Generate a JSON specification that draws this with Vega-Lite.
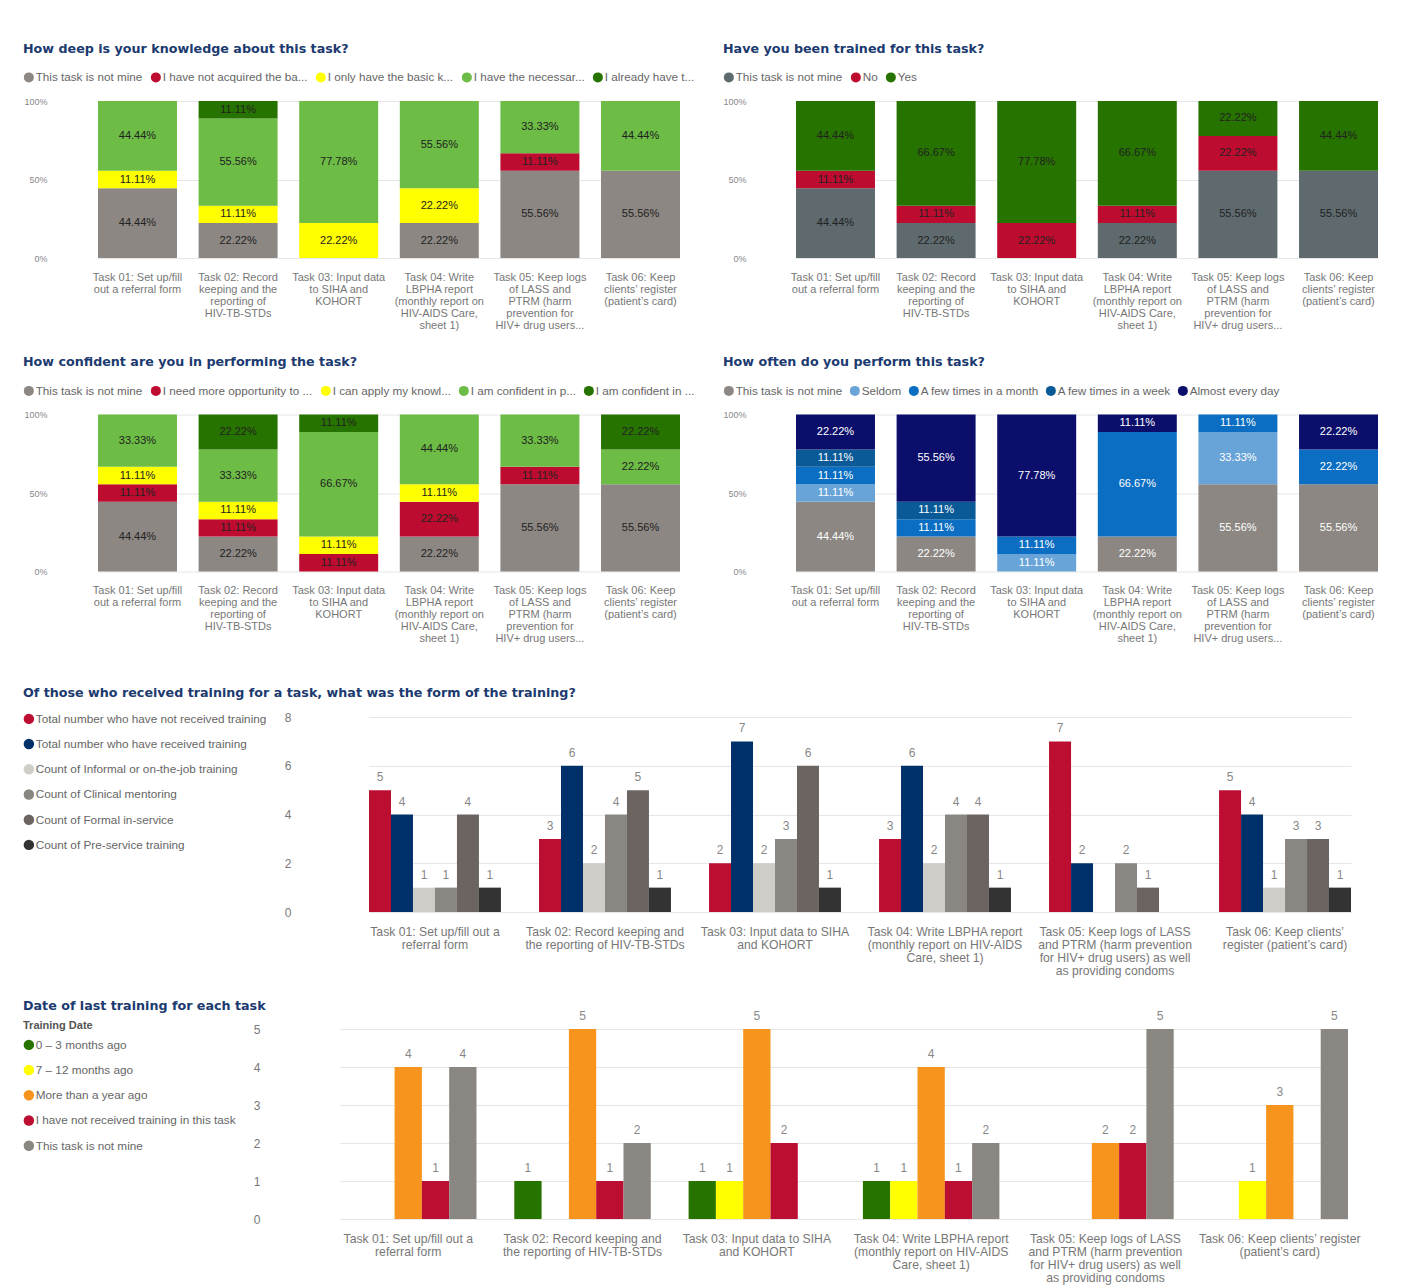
{
  "$schema": "https://vega.github.io/schema/vega-lite/v6.json",
  "background": "white",
  "padding": {"left": 23, "top": 42, "right": 5, "bottom": 5},
  "config": {
    "font": "Liberation Sans",
    "view": {"stroke": null},
    "title": {"font": "DejaVu Sans", "fontSize": 12.7, "fontWeight": "bold", "color": "#1b3a6f", "anchor": "start", "frame": "bounds", "offset": 16},
    "axisX": {"domain": false, "ticks": false, "grid": false, "labelAngle": 0, "labelColor": "#777", "labelBaseline": "top", "labelOverlap": false, "labelBound": false, "labelLimit": 300, "title": null},
    "axisY": {"domain": false, "ticks": false, "gridColor": "#e6e6e6", "labelColor": "#888", "title": null},
    "legend": {"symbolType": "circle", "labelColor": "#666", "symbolStrokeWidth": 0, "labelLimit": 400}
  },
  "resolve": {"scale": {"color": "independent", "x": "independent", "y": "independent", "xOffset": "independent"}, "legend": {"color": "independent"}, "axis": {"x": "independent", "y": "independent"}},
  "concat": [
    {
      "resolve": {"scale": {"color": "independent", "x": "independent", "y": "independent"}, "legend": {"color": "independent"}, "axis": {"x": "independent", "y": "independent"}},
      "concat": [
        {
          "resolve": {"scale": {"color": "independent", "x": "independent", "y": "independent"}, "legend": {"color": "independent"}, "axis": {"x": "independent", "y": "independent"}},
          "hconcat": [
            {
              "title": {"text": "How deep is your knowledge about this task?"},
              "width": 634, "height": 157,
              "data": {"values": [
                {"task": "Task 01", "answer": "This task is not mine", "code": 0, "share": 0.4444},
                {"task": "Task 01", "answer": "I only have the basic knowledge", "code": 2, "share": 0.1111},
                {"task": "Task 01", "answer": "I have the necessary knowledge", "code": 3, "share": 0.4444},
                {"task": "Task 02", "answer": "This task is not mine", "code": 0, "share": 0.2222},
                {"task": "Task 02", "answer": "I only have the basic knowledge", "code": 2, "share": 0.1111},
                {"task": "Task 02", "answer": "I have the necessary knowledge", "code": 3, "share": 0.5556},
                {"task": "Task 02", "answer": "I already have thorough knowledge", "code": 4, "share": 0.1111},
                {"task": "Task 03", "answer": "I only have the basic knowledge", "code": 2, "share": 0.2222},
                {"task": "Task 03", "answer": "I have the necessary knowledge", "code": 3, "share": 0.7778},
                {"task": "Task 04", "answer": "This task is not mine", "code": 0, "share": 0.2222},
                {"task": "Task 04", "answer": "I only have the basic knowledge", "code": 2, "share": 0.2222},
                {"task": "Task 04", "answer": "I have the necessary knowledge", "code": 3, "share": 0.5556},
                {"task": "Task 05", "answer": "This task is not mine", "code": 0, "share": 0.5556},
                {"task": "Task 05", "answer": "I have not acquired the basic knowledge", "code": 1, "share": 0.1111},
                {"task": "Task 05", "answer": "I have the necessary knowledge", "code": 3, "share": 0.3333},
                {"task": "Task 06", "answer": "This task is not mine", "code": 0, "share": 0.5556},
                {"task": "Task 06", "answer": "I have the necessary knowledge", "code": 3, "share": 0.4444}
              ]},
              "transform": [
                {"stack": "share", "groupby": ["task"], "sort": [{"field": "code"}], "as": ["s0", "s1"]},
                {"calculate": "(datum.s0 + datum.s1) / 2", "as": "mid"}
              ],
              "encoding": {
                "x": {"field": "task", "type": "nominal", "scale": {"range": [41, 623], "paddingInner": 0.215, "paddingOuter": 0},
                  "axis": {"labelFontSize": 11, "labelLineHeight": 12, "labelPadding": 13,
                    "labelExpr": "datum.value=='Task 01' ? ['Task 01: Set up/fill','out a referral form'] : datum.value=='Task 02' ? ['Task 02: Record','keeping and the','reporting of','HIV-TB-STDs'] : datum.value=='Task 03' ? ['Task 03: Input data','to SIHA and','KOHORT'] : datum.value=='Task 04' ? ['Task 04: Write','LBPHA report','(monthly report on','HIV-AIDS Care,','sheet 1)'] : datum.value=='Task 05' ? ['Task 05: Keep logs','of LASS and','PTRM (harm','prevention for','HIV+ drug users...'] : ['Task 06: Keep','clients’ register','(patient’s card)']"}}
              },
              "layer": [
                {"mark": {"type": "bar"},
                  "encoding": {
                    "y": {"field": "s0", "type": "quantitative", "scale": {"domain": [0, 1]}, "axis": {"values": [0, 0.5, 1], "format": ".0%", "labelFontSize": 9, "labelPadding": 10}},
                    "y2": {"field": "s1"},
                    "color": {"field": "answer", "type": "nominal",
                      "scale": {"domain": ["This task is not mine", "I have not acquired the basic knowledge", "I only have the basic knowledge", "I have the necessary knowledge", "I already have thorough knowledge"], "range": ["#8c8782", "#bd0c2f", "#ffff00", "#6cbc45", "#267300"]},
                      "legend": {"orient": "none", "legendX": -34, "legendY": -29.7, "direction": "horizontal", "title": null, "symbolSize": 100, "labelFontSize": 11.7, "labelOffset": 1, "columnPadding": 7,
                        "labelExpr": "indexof(datum.label,'not acquired')>=0 ? 'I have not acquired the ba...' : indexof(datum.label,'only have')>=0 ? 'I only have the basic k...' : indexof(datum.label,'necessary')>=0 ? 'I have the necessar...' : indexof(datum.label,'already')>=0 ? 'I already have t...' : datum.label"}}
                  }},
                {"mark": {"type": "text", "fontSize": 11, "color": "#222"},
                  "encoding": {"y": {"field": "mid", "type": "quantitative"}, "text": {"field": "share", "type": "quantitative", "format": ".2%"}}}
              ]
            },
            {
              "title": {"text": "Have you been trained for this task?"},
              "width": 634, "height": 157,
              "data": {"values": [
                {"task": "Task 01", "answer": "This task is not mine", "code": 0, "share": 0.4444},
                {"task": "Task 01", "answer": "No", "code": 1, "share": 0.1111},
                {"task": "Task 01", "answer": "Yes", "code": 2, "share": 0.4444},
                {"task": "Task 02", "answer": "This task is not mine", "code": 0, "share": 0.2222},
                {"task": "Task 02", "answer": "No", "code": 1, "share": 0.1111},
                {"task": "Task 02", "answer": "Yes", "code": 2, "share": 0.6667},
                {"task": "Task 03", "answer": "No", "code": 1, "share": 0.2222},
                {"task": "Task 03", "answer": "Yes", "code": 2, "share": 0.7778},
                {"task": "Task 04", "answer": "This task is not mine", "code": 0, "share": 0.2222},
                {"task": "Task 04", "answer": "No", "code": 1, "share": 0.1111},
                {"task": "Task 04", "answer": "Yes", "code": 2, "share": 0.6667},
                {"task": "Task 05", "answer": "This task is not mine", "code": 0, "share": 0.5556},
                {"task": "Task 05", "answer": "No", "code": 1, "share": 0.2222},
                {"task": "Task 05", "answer": "Yes", "code": 2, "share": 0.2222},
                {"task": "Task 06", "answer": "This task is not mine", "code": 0, "share": 0.5556},
                {"task": "Task 06", "answer": "Yes", "code": 2, "share": 0.4444}
              ]},
              "transform": [
                {"stack": "share", "groupby": ["task"], "sort": [{"field": "code"}], "as": ["s0", "s1"]},
                {"calculate": "(datum.s0 + datum.s1) / 2", "as": "mid"}
              ],
              "encoding": {
                "x": {"field": "task", "type": "nominal", "scale": {"range": [40, 622], "paddingInner": 0.215, "paddingOuter": 0},
                  "axis": {"labelFontSize": 11, "labelLineHeight": 12, "labelPadding": 13,
                    "labelExpr": "datum.value=='Task 01' ? ['Task 01: Set up/fill','out a referral form'] : datum.value=='Task 02' ? ['Task 02: Record','keeping and the','reporting of','HIV-TB-STDs'] : datum.value=='Task 03' ? ['Task 03: Input data','to SIHA and','KOHORT'] : datum.value=='Task 04' ? ['Task 04: Write','LBPHA report','(monthly report on','HIV-AIDS Care,','sheet 1)'] : datum.value=='Task 05' ? ['Task 05: Keep logs','of LASS and','PTRM (harm','prevention for','HIV+ drug users...'] : ['Task 06: Keep','clients’ register','(patient’s card)']"}}
              },
              "layer": [
                {"mark": {"type": "bar"},
                  "encoding": {
                    "y": {"field": "s0", "type": "quantitative", "scale": {"domain": [0, 1]}, "axis": {"values": [0, 0.5, 1], "format": ".0%", "labelFontSize": 9, "labelPadding": 10}},
                    "y2": {"field": "s1"},
                    "color": {"field": "answer", "type": "nominal",
                      "scale": {"domain": ["This task is not mine", "No", "Yes"], "range": ["#5e6a6d", "#bd0c2f", "#267300"]},
                      "legend": {"orient": "none", "legendX": -33, "legendY": -29.7, "direction": "horizontal", "title": null, "symbolSize": 100, "labelFontSize": 11.7, "labelOffset": 1, "columnPadding": 7}}
                  }},
                {"mark": {"type": "text", "fontSize": 11, "color": "#222"},
                  "encoding": {"y": {"field": "mid", "type": "quantitative"}, "text": {"field": "share", "type": "quantitative", "format": ".2%"}}}
              ]
            }
          ],
          "spacing": 27
        },
        {
          "resolve": {"scale": {"color": "independent", "x": "independent", "y": "independent"}, "legend": {"color": "independent"}, "axis": {"x": "independent", "y": "independent"}},
          "hconcat": [
            {
              "title": {"text": "How confident are you in performing the task?"},
              "width": 634, "height": 157,
              "data": {"values": [
                {"task": "Task 01", "answer": "This task is not mine", "code": 0, "share": 0.4444},
                {"task": "Task 01", "answer": "I need more opportunity to practice", "code": 1, "share": 0.1111},
                {"task": "Task 01", "answer": "I can apply my knowledge with support", "code": 2, "share": 0.1111},
                {"task": "Task 01", "answer": "I am confident in performing the task", "code": 3, "share": 0.3333},
                {"task": "Task 02", "answer": "This task is not mine", "code": 0, "share": 0.2222},
                {"task": "Task 02", "answer": "I need more opportunity to practice", "code": 1, "share": 0.1111},
                {"task": "Task 02", "answer": "I can apply my knowledge with support", "code": 2, "share": 0.1111},
                {"task": "Task 02", "answer": "I am confident in performing the task", "code": 3, "share": 0.3333},
                {"task": "Task 02", "answer": "I am confident in teaching others", "code": 4, "share": 0.2222},
                {"task": "Task 03", "answer": "I need more opportunity to practice", "code": 1, "share": 0.1111},
                {"task": "Task 03", "answer": "I can apply my knowledge with support", "code": 2, "share": 0.1111},
                {"task": "Task 03", "answer": "I am confident in performing the task", "code": 3, "share": 0.6667},
                {"task": "Task 03", "answer": "I am confident in teaching others", "code": 4, "share": 0.1111},
                {"task": "Task 04", "answer": "This task is not mine", "code": 0, "share": 0.2222},
                {"task": "Task 04", "answer": "I need more opportunity to practice", "code": 1, "share": 0.2222},
                {"task": "Task 04", "answer": "I can apply my knowledge with support", "code": 2, "share": 0.1111},
                {"task": "Task 04", "answer": "I am confident in performing the task", "code": 3, "share": 0.4444},
                {"task": "Task 05", "answer": "This task is not mine", "code": 0, "share": 0.5556},
                {"task": "Task 05", "answer": "I need more opportunity to practice", "code": 1, "share": 0.1111},
                {"task": "Task 05", "answer": "I am confident in performing the task", "code": 3, "share": 0.3333},
                {"task": "Task 06", "answer": "This task is not mine", "code": 0, "share": 0.5556},
                {"task": "Task 06", "answer": "I am confident in performing the task", "code": 3, "share": 0.2222},
                {"task": "Task 06", "answer": "I am confident in teaching others", "code": 4, "share": 0.2222}
              ]},
              "transform": [
                {"stack": "share", "groupby": ["task"], "sort": [{"field": "code"}], "as": ["s0", "s1"]},
                {"calculate": "(datum.s0 + datum.s1) / 2", "as": "mid"}
              ],
              "encoding": {
                "x": {"field": "task", "type": "nominal", "scale": {"range": [41, 623], "paddingInner": 0.215, "paddingOuter": 0},
                  "axis": {"labelFontSize": 11, "labelLineHeight": 12, "labelPadding": 13,
                    "labelExpr": "datum.value=='Task 01' ? ['Task 01: Set up/fill','out a referral form'] : datum.value=='Task 02' ? ['Task 02: Record','keeping and the','reporting of','HIV-TB-STDs'] : datum.value=='Task 03' ? ['Task 03: Input data','to SIHA and','KOHORT'] : datum.value=='Task 04' ? ['Task 04: Write','LBPHA report','(monthly report on','HIV-AIDS Care,','sheet 1)'] : datum.value=='Task 05' ? ['Task 05: Keep logs','of LASS and','PTRM (harm','prevention for','HIV+ drug users...'] : ['Task 06: Keep','clients’ register','(patient’s card)']"}}
              },
              "layer": [
                {"mark": {"type": "bar"},
                  "encoding": {
                    "y": {"field": "s0", "type": "quantitative", "scale": {"domain": [0, 1]}, "axis": {"values": [0, 0.5, 1], "format": ".0%", "labelFontSize": 9, "labelPadding": 10}},
                    "y2": {"field": "s1"},
                    "color": {"field": "answer", "type": "nominal",
                      "scale": {"domain": ["This task is not mine", "I need more opportunity to practice", "I can apply my knowledge with support", "I am confident in performing the task", "I am confident in teaching others"], "range": ["#8c8782", "#bd0c2f", "#ffff00", "#6cbc45", "#267300"]},
                      "legend": {"orient": "none", "legendX": -34, "legendY": -29.7, "direction": "horizontal", "title": null, "symbolSize": 100, "labelFontSize": 11.7, "labelOffset": 1, "columnPadding": 7,
                        "labelExpr": "indexof(datum.label,'opportunity')>=0 ? 'I need more opportunity to ...' : indexof(datum.label,'apply')>=0 ? 'I can apply my knowl...' : indexof(datum.label,'performing')>=0 ? 'I am confident in p...' : indexof(datum.label,'teaching')>=0 ? 'I am confident in ...' : datum.label"}}
                  }},
                {"mark": {"type": "text", "fontSize": 11, "color": "#222"},
                  "encoding": {"y": {"field": "mid", "type": "quantitative"}, "text": {"field": "share", "type": "quantitative", "format": ".2%"}}}
              ]
            },
            {
              "title": {"text": "How often do you perform this task?"},
              "width": 634, "height": 157,
              "data": {"values": [
                {"task": "Task 01", "answer": "This task is not mine", "code": 0, "share": 0.4444},
                {"task": "Task 01", "answer": "Seldom", "code": 1, "share": 0.1111},
                {"task": "Task 01", "answer": "A few times in a month", "code": 2, "share": 0.1111},
                {"task": "Task 01", "answer": "A few times in a week", "code": 3, "share": 0.1111},
                {"task": "Task 01", "answer": "Almost every day", "code": 4, "share": 0.2222},
                {"task": "Task 02", "answer": "This task is not mine", "code": 0, "share": 0.2222},
                {"task": "Task 02", "answer": "A few times in a month", "code": 2, "share": 0.1111},
                {"task": "Task 02", "answer": "A few times in a week", "code": 3, "share": 0.1111},
                {"task": "Task 02", "answer": "Almost every day", "code": 4, "share": 0.5556},
                {"task": "Task 03", "answer": "Seldom", "code": 1, "share": 0.1111},
                {"task": "Task 03", "answer": "A few times in a month", "code": 2, "share": 0.1111},
                {"task": "Task 03", "answer": "Almost every day", "code": 4, "share": 0.7778},
                {"task": "Task 04", "answer": "This task is not mine", "code": 0, "share": 0.2222},
                {"task": "Task 04", "answer": "A few times in a month", "code": 2, "share": 0.6667},
                {"task": "Task 04", "answer": "Almost every day", "code": 4, "share": 0.1111},
                {"task": "Task 05", "answer": "This task is not mine", "code": 0, "share": 0.5556},
                {"task": "Task 05", "answer": "Seldom", "code": 1, "share": 0.3333},
                {"task": "Task 05", "answer": "A few times in a month", "code": 2, "share": 0.1111},
                {"task": "Task 06", "answer": "This task is not mine", "code": 0, "share": 0.5556},
                {"task": "Task 06", "answer": "A few times in a month", "code": 2, "share": 0.2222},
                {"task": "Task 06", "answer": "Almost every day", "code": 4, "share": 0.2222}
              ]},
              "transform": [
                {"stack": "share", "groupby": ["task"], "sort": [{"field": "code"}], "as": ["s0", "s1"]},
                {"calculate": "(datum.s0 + datum.s1) / 2", "as": "mid"}
              ],
              "encoding": {
                "x": {"field": "task", "type": "nominal", "scale": {"range": [40, 622], "paddingInner": 0.215, "paddingOuter": 0},
                  "axis": {"labelFontSize": 11, "labelLineHeight": 12, "labelPadding": 13,
                    "labelExpr": "datum.value=='Task 01' ? ['Task 01: Set up/fill','out a referral form'] : datum.value=='Task 02' ? ['Task 02: Record','keeping and the','reporting of','HIV-TB-STDs'] : datum.value=='Task 03' ? ['Task 03: Input data','to SIHA and','KOHORT'] : datum.value=='Task 04' ? ['Task 04: Write','LBPHA report','(monthly report on','HIV-AIDS Care,','sheet 1)'] : datum.value=='Task 05' ? ['Task 05: Keep logs','of LASS and','PTRM (harm','prevention for','HIV+ drug users...'] : ['Task 06: Keep','clients’ register','(patient’s card)']"}}
              },
              "layer": [
                {"mark": {"type": "bar"},
                  "encoding": {
                    "y": {"field": "s0", "type": "quantitative", "scale": {"domain": [0, 1]}, "axis": {"values": [0, 0.5, 1], "format": ".0%", "labelFontSize": 9, "labelPadding": 10}},
                    "y2": {"field": "s1"},
                    "color": {"field": "answer", "type": "nominal",
                      "scale": {"domain": ["This task is not mine", "Seldom", "A few times in a month", "A few times in a week", "Almost every day"], "range": ["#8c8782", "#68a4d8", "#0b6ec2", "#0a5a98", "#0b0f6b"]},
                      "legend": {"orient": "none", "legendX": -33, "legendY": -29.7, "direction": "horizontal", "title": null, "symbolSize": 100, "labelFontSize": 11.7, "labelOffset": 1, "columnPadding": 6}}
                  }},
                {"mark": {"type": "text", "fontSize": 11, "color": "#ffffff"},
                  "encoding": {"y": {"field": "mid", "type": "quantitative"}, "text": {"field": "share", "type": "quantitative", "format": ".2%"}}}
              ]
            }
          ],
          "spacing": 27
        }
      ],
      "columns": 1,
      "spacing": 25.5
    },
    {
      "resolve": {"scale": {"color": "independent", "x": "independent", "y": "independent", "xOffset": "independent"}, "legend": {"color": "independent"}, "axis": {"x": "independent", "y": "independent"}},
      "concat": [
        {
          "bounds": "flush",
          "spacing": 0,
          "resolve": {"scale": {"color": "independent", "x": "independent", "y": "independent", "xOffset": "independent"}, "legend": {"color": "independent"}, "axis": {"x": "independent", "y": "independent"}},
          "hconcat": [
            {"width": 244, "height": 10, "data": {"values": []}, "mark": "point"},
            {
              "title": {"text": "Of those who received training for a task, what was the form of the training?", "offset": 11},
              "width": 1068, "height": 195,
              "data": {"values": [
                {"task": "Task 01", "form": "Total number who have not received training", "count": 5},
                {"task": "Task 01", "form": "Total number who have received training", "count": 4},
                {"task": "Task 01", "form": "Count of Informal or on-the-job training", "count": 1},
                {"task": "Task 01", "form": "Count of Clinical mentoring", "count": 1},
                {"task": "Task 01", "form": "Count of Formal in-service", "count": 4},
                {"task": "Task 01", "form": "Count of Pre-service training", "count": 1},
                {"task": "Task 02", "form": "Total number who have not received training", "count": 3},
                {"task": "Task 02", "form": "Total number who have received training", "count": 6},
                {"task": "Task 02", "form": "Count of Informal or on-the-job training", "count": 2},
                {"task": "Task 02", "form": "Count of Clinical mentoring", "count": 4},
                {"task": "Task 02", "form": "Count of Formal in-service", "count": 5},
                {"task": "Task 02", "form": "Count of Pre-service training", "count": 1},
                {"task": "Task 03", "form": "Total number who have not received training", "count": 2},
                {"task": "Task 03", "form": "Total number who have received training", "count": 7},
                {"task": "Task 03", "form": "Count of Informal or on-the-job training", "count": 2},
                {"task": "Task 03", "form": "Count of Clinical mentoring", "count": 3},
                {"task": "Task 03", "form": "Count of Formal in-service", "count": 6},
                {"task": "Task 03", "form": "Count of Pre-service training", "count": 1},
                {"task": "Task 04", "form": "Total number who have not received training", "count": 3},
                {"task": "Task 04", "form": "Total number who have received training", "count": 6},
                {"task": "Task 04", "form": "Count of Informal or on-the-job training", "count": 2},
                {"task": "Task 04", "form": "Count of Clinical mentoring", "count": 4},
                {"task": "Task 04", "form": "Count of Formal in-service", "count": 4},
                {"task": "Task 04", "form": "Count of Pre-service training", "count": 1},
                {"task": "Task 05", "form": "Total number who have not received training", "count": 7},
                {"task": "Task 05", "form": "Total number who have received training", "count": 2},
                {"task": "Task 05", "form": "Count of Clinical mentoring", "count": 2},
                {"task": "Task 05", "form": "Count of Formal in-service", "count": 1},
                {"task": "Task 06", "form": "Total number who have not received training", "count": 5},
                {"task": "Task 06", "form": "Total number who have received training", "count": 4},
                {"task": "Task 06", "form": "Count of Informal or on-the-job training", "count": 1},
                {"task": "Task 06", "form": "Count of Clinical mentoring", "count": 3},
                {"task": "Task 06", "form": "Count of Formal in-service", "count": 3},
                {"task": "Task 06", "form": "Count of Pre-service training", "count": 1}
              ]},
              "encoding": {
                "x": {"field": "task", "type": "nominal", "scale": {"range": [68, 1050], "paddingInner": 0.224, "paddingOuter": 0},
                  "axis": {"labelFontSize": 12.2, "labelLineHeight": 13, "labelPadding": 13,
                    "labelExpr": "datum.value=='Task 01' ? ['Task 01: Set up/fill out a','referral form'] : datum.value=='Task 02' ? ['Task 02: Record keeping and','the reporting of HIV-TB-STDs'] : datum.value=='Task 03' ? ['Task 03: Input data to SIHA','and KOHORT'] : datum.value=='Task 04' ? ['Task 04: Write LBPHA report','(monthly report on HIV-AIDS','Care, sheet 1)'] : datum.value=='Task 05' ? ['Task 05: Keep logs of LASS','and PTRM (harm prevention','for HIV+ drug users) as well','as providing condoms'] : ['Task 06: Keep clients’','register (patient’s card)']"}},
                "xOffset": {"field": "form", "type": "nominal", "scale": {"domain": ["Total number who have not received training", "Total number who have received training", "Count of Informal or on-the-job training", "Count of Clinical mentoring", "Count of Formal in-service", "Count of Pre-service training"], "paddingInner": 0, "paddingOuter": 0}},
                "y": {"field": "count", "type": "quantitative", "scale": {"domain": [0, 8]}, "axis": {"values": [0, 2, 4, 6, 8], "labelFontSize": 12, "labelPadding": 10, "labelColor": "#777"}}
              },
              "layer": [
                {"mark": {"type": "bar"},
                  "encoding": {
                    "color": {"field": "form", "type": "nominal",
                      "scale": {"domain": ["Total number who have not received training", "Total number who have received training", "Count of Informal or on-the-job training", "Count of Clinical mentoring", "Count of Formal in-service", "Count of Pre-service training"], "range": ["#bb0e30", "#00306a", "#cfcdc8", "#8a8782", "#6b6461", "#333333"]},
                      "legend": {"orient": "none", "legendX": -278, "legendY": -4, "direction": "vertical", "title": null, "symbolSize": 110, "labelFontSize": 11.75, "labelOffset": 1, "rowPadding": 12.2}}
                  }},
                {"mark": {"type": "text", "fontSize": 12, "color": "#888", "dy": -13},
                  "encoding": {"text": {"field": "count", "type": "quantitative"}}}
              ]
            }
          ]
        },
        {
          "bounds": "flush",
          "spacing": 0,
          "resolve": {"scale": {"color": "independent", "x": "independent", "y": "independent", "xOffset": "independent"}, "legend": {"color": "independent"}, "axis": {"x": "independent", "y": "independent"}},
          "hconcat": [
            {"width": 213, "height": 10, "data": {"values": []}, "mark": "point"},
            {
              "title": {"text": "Date of last training for each task", "offset": -3},
              "width": 1099, "height": 190,
              "data": {"values": [
                {"task": "Task 01", "when": "More than a year ago", "count": 4},
                {"task": "Task 01", "when": "I have not received training in this task", "count": 1},
                {"task": "Task 01", "when": "This task is not mine", "count": 4},
                {"task": "Task 02", "when": "0 – 3 months ago", "count": 1},
                {"task": "Task 02", "when": "More than a year ago", "count": 5},
                {"task": "Task 02", "when": "I have not received training in this task", "count": 1},
                {"task": "Task 02", "when": "This task is not mine", "count": 2},
                {"task": "Task 03", "when": "0 – 3 months ago", "count": 1},
                {"task": "Task 03", "when": "7 – 12 months ago", "count": 1},
                {"task": "Task 03", "when": "More than a year ago", "count": 5},
                {"task": "Task 03", "when": "I have not received training in this task", "count": 2},
                {"task": "Task 04", "when": "0 – 3 months ago", "count": 1},
                {"task": "Task 04", "when": "7 – 12 months ago", "count": 1},
                {"task": "Task 04", "when": "More than a year ago", "count": 4},
                {"task": "Task 04", "when": "I have not received training in this task", "count": 1},
                {"task": "Task 04", "when": "This task is not mine", "count": 2},
                {"task": "Task 05", "when": "More than a year ago", "count": 2},
                {"task": "Task 05", "when": "I have not received training in this task", "count": 2},
                {"task": "Task 05", "when": "This task is not mine", "count": 5},
                {"task": "Task 06", "when": "7 – 12 months ago", "count": 1},
                {"task": "Task 06", "when": "More than a year ago", "count": 3},
                {"task": "Task 06", "when": "This task is not mine", "count": 5}
              ]},
              "encoding": {
                "x": {"field": "task", "type": "nominal", "scale": {"range": [70, 1078], "paddingInner": 0.217, "paddingOuter": 0},
                  "axis": {"labelFontSize": 12.2, "labelLineHeight": 13, "labelPadding": 13,
                    "labelExpr": "datum.value=='Task 01' ? ['Task 01: Set up/fill out a','referral form'] : datum.value=='Task 02' ? ['Task 02: Record keeping and','the reporting of HIV-TB-STDs'] : datum.value=='Task 03' ? ['Task 03: Input data to SIHA','and KOHORT'] : datum.value=='Task 04' ? ['Task 04: Write LBPHA report','(monthly report on HIV-AIDS','Care, sheet 1)'] : datum.value=='Task 05' ? ['Task 05: Keep logs of LASS','and PTRM (harm prevention','for HIV+ drug users) as well','as providing condoms'] : ['Task 06: Keep clients’ register','(patient’s card)']"}},
                "xOffset": {"field": "when", "type": "nominal", "scale": {"domain": ["0 – 3 months ago", "7 – 12 months ago", "More than a year ago", "I have not received training in this task", "This task is not mine"], "paddingInner": 0, "paddingOuter": 0}},
                "y": {"field": "count", "type": "quantitative", "scale": {"domain": [0, 5]}, "axis": {"values": [0, 1, 2, 3, 4, 5], "labelFontSize": 12, "labelPadding": 10, "labelColor": "#777"}}
              },
              "layer": [
                {"mark": {"type": "bar"},
                  "encoding": {
                    "color": {"field": "when", "type": "nominal",
                      "scale": {"domain": ["0 – 3 months ago", "7 – 12 months ago", "More than a year ago", "I have not received training in this task", "This task is not mine"], "range": ["#267300", "#ffff00", "#f7941d", "#bb0e30", "#8a8782"]},
                      "legend": {"orient": "none", "legendX": -247, "legendY": -9, "direction": "vertical", "title": "Training Date", "titleFontSize": 11, "titleFontWeight": "bold", "titleColor": "#555", "titlePadding": 8, "symbolSize": 110, "labelFontSize": 11.75, "labelOffset": 1, "rowPadding": 12.2}}
                  }},
                {"mark": {"type": "text", "fontSize": 12, "color": "#888", "dy": -13},
                  "encoding": {"text": {"field": "count", "type": "quantitative"}}}
              ]
            }
          ]
        }
      ],
      "columns": 1,
      "spacing": 23
    }
  ],
  "columns": 1,
  "spacing": 43
}
